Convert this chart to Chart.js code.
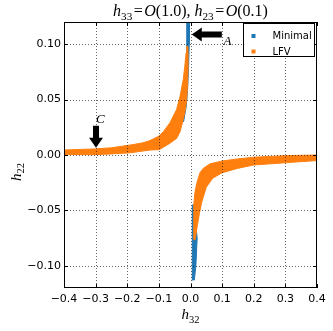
<!DOCTYPE html>
<html><head><meta charset="utf-8">
<script src="https://cdn.jsdelivr.net/npm/chart.js@4.4.1/dist/chart.umd.min.js"></script>
<style>html,body{margin:0;padding:0;background:#fff;}#wrap{width:333px;height:331px;}</style>
</head><body><div id="wrap"><canvas id="c" width="333" height="331"></canvas></div>
<script>
// ---- data ----
const xTicks = [-0.4, -0.3, -0.2, -0.1, 0.0, 0.1, 0.2, 0.3, 0.4];
const yTicks = [-0.10, -0.05, 0.00, 0.05, 0.10];
const xRange = [-0.4, 0.4];
const yRange = [-0.12, 0.12];
const seriesNames = ['Minimal', 'LFV'];

// LFV band, h32 < 0 branch (outline of the scatter cloud)
const lfvLeftX = [-0.4, -0.3, -0.25, -0.19, -0.15, -0.128, -0.1, -0.086, -0.065, -0.044, -0.033, -0.023, -0.018, -0.014, -0.012,
                  -0.008, -0.0075, -0.009, -0.012, -0.017, -0.023, -0.033, -0.044, -0.065, -0.086, -0.1, -0.128, -0.19, -0.25, -0.3, -0.4];
const lfvLeftY = [0.0045, 0.0055, 0.0065, 0.009, 0.011, 0.013, 0.017, 0.021, 0.029, 0.041, 0.053, 0.068, 0.080, 0.092, 0.098,
                  0.098, 0.080, 0.065, 0.050, 0.040, 0.032, 0.021, 0.015, 0.0106, 0.007, 0.0048, 0.0045, 0.002, 0.001, 0.0003, 0.0005];
// LFV band, h32 > 0 branch
const lfvRightX = [0.009, 0.0095, 0.011, 0.014, 0.0196, 0.03, 0.0407, 0.0617, 0.1, 0.15, 0.2, 0.3, 0.4,
                   0.4, 0.3, 0.2, 0.15, 0.1, 0.07, 0.05, 0.035, 0.028, 0.022, 0.017, 0.014];
const lfvRightY = [-0.076, -0.060, -0.045, -0.034, -0.0257, -0.016, -0.012, -0.008, -0.0054, -0.0035, -0.002, -0.0006, 0.0,
                   -0.005, -0.007, -0.009, -0.012, -0.016, -0.021, -0.029, -0.043, -0.053, -0.063, -0.072, -0.077];
// Minimal cloud, h32 < 0 part
const minLeftX = [-0.003, -0.004, -0.006, -0.009, -0.013, -0.020, -0.022, -0.024, -0.016, -0.013, -0.012, -0.012, -0.0115];
const minLeftY = [0.12, 0.10, 0.08, 0.06, 0.045, 0.033, 0.030, 0.033, 0.050, 0.065, 0.080, 0.10, 0.12];
// Minimal cloud, h32 > 0 part
const minRightX = [0.007, 0.005, 0.005, 0.006, 0.007, 0.011, 0.016, 0.021, 0.017, 0.012];
const minRightY = [-0.113, -0.10, -0.075, -0.060, -0.045, -0.045, -0.060, -0.075, -0.10, -0.113];

// annotations (data units): arrow tail, arrow tip, label anchor
const arrowA = {tail: [0.099, 0.1088], tip: [0.004, 0.1088], text: 'A', at: [0.104, 0.0993]};
const arrowC = {tail: [-0.2988, 0.0264], tip: [-0.2988, 0.0066], text: 'C', at: [-0.2990, 0.0290]};

// ---- helpers ----
const BLUE = '#1f77b4', ORANGE = '#ff7f0e';
function pts(xs, ys) { return xs.map((x, i) => ({x: x, y: ys[i]})); }
function band(label, xs, ys, color, order) {
  return {label: label, data: pts(xs, ys), showLine: true, fill: 'shape', backgroundColor: color,
          borderColor: color, borderWidth: 1, pointRadius: 0, pointHoverRadius: 0, tension: 0, order: order};
}
function fmt(v, d) { const s = (Math.abs(v) < 1e-9 ? 0 : v).toFixed(d); return s.replace('-', '\u2212'); }

const SERIF = '"Liberation Serif", "DejaVu Serif", serif';
function drawMath(ctx, parts, x, y, size, align) {
  const fonts = parts.map(p => (p.it ? 'italic ' : '') + (p.sub ? size * 0.7 : size) + 'px ' + SERIF);
  let w = 0;
  const ws = parts.map((p, i) => { ctx.font = fonts[i]; const m = ctx.measureText(p.t).width + (p.pad || 0) * 2; w += m; return m; });
  let cx = align === 'center' ? x - w / 2 : x;
  ctx.textAlign = 'left'; ctx.textBaseline = 'alphabetic';
  parts.forEach((p, i) => { ctx.font = fonts[i]; ctx.fillText(p.t, cx + (p.pad || 0), y + (p.sub ? size * 0.25 : 0)); cx += ws[i]; });
}
function drawArrow(ctx, x0, y0, x1, y1, shaft, headW, headL) {
  const dx = x1 - x0, dy = y1 - y0, L = Math.hypot(dx, dy);
  const ux = dx / L, uy = dy / L, nx = -uy, ny = ux;
  const bx = x1 - ux * headL, by = y1 - uy * headL;
  ctx.beginPath();
  ctx.moveTo(x0 + nx * shaft / 2, y0 + ny * shaft / 2);
  ctx.lineTo(bx + nx * shaft / 2, by + ny * shaft / 2);
  ctx.lineTo(bx + nx * headW / 2, by + ny * headW / 2);
  ctx.lineTo(x1, y1);
  ctx.lineTo(bx - nx * headW / 2, by - ny * headW / 2);
  ctx.lineTo(bx - nx * shaft / 2, by - ny * shaft / 2);
  ctx.lineTo(x0 - nx * shaft / 2, y0 - ny * shaft / 2);
  ctx.closePath();
  ctx.fillStyle = '#000'; ctx.fill();
}

const deco = {
  id: 'deco',
  afterDatasetsDraw(chart) {
    const ctx = chart.ctx, a = chart.chartArea, xs = chart.scales.x, ys = chart.scales.y;
    ctx.save();
    // grid (drawn above data, dotted)
    ctx.strokeStyle = 'rgba(0,0,0,0.6)'; ctx.lineWidth = 1; ctx.setLineDash([1, 2]);
    xTicks.forEach(v => { const px = Math.round(xs.getPixelForValue(v)) + 0.5; if (px <= a.left + 1 || px >= a.right - 1) return;
      ctx.beginPath(); ctx.moveTo(px, a.top); ctx.lineTo(px, a.bottom); ctx.stroke(); });
    yTicks.forEach(v => { const py = Math.round(ys.getPixelForValue(v)) + 0.5;
      ctx.beginPath(); ctx.moveTo(a.left, py); ctx.lineTo(a.right, py); ctx.stroke(); });
    ctx.setLineDash([]);
    // inward ticks
    ctx.strokeStyle = '#000'; ctx.lineWidth = 1;
    xTicks.forEach(v => { const px = Math.round(xs.getPixelForValue(v)) + 0.5;
      ctx.beginPath(); ctx.moveTo(px, a.bottom); ctx.lineTo(px, a.bottom - 4); ctx.moveTo(px, a.top); ctx.lineTo(px, a.top + 4); ctx.stroke(); });
    yTicks.forEach(v => { const py = Math.round(ys.getPixelForValue(v)) + 0.5;
      ctx.beginPath(); ctx.moveTo(a.left, py); ctx.lineTo(a.left + 4, py); ctx.moveTo(a.right, py); ctx.lineTo(a.right - 4, py); ctx.stroke(); });
    // arrows + labels
    [arrowA, arrowC].forEach(ar => {
      drawArrow(ctx, xs.getPixelForValue(ar.tail[0]), ys.getPixelForValue(ar.tail[1]),
                xs.getPixelForValue(ar.tip[0]), ys.getPixelForValue(ar.tip[1]), 6, 14, 10);
      ctx.fillStyle = '#000';
      drawMath(ctx, [{t: ar.text, it: 1}], xs.getPixelForValue(ar.at[0]), ys.getPixelForValue(ar.at[1]), 13, 'left');
    });
    // frame
    ctx.strokeStyle = '#000'; ctx.lineWidth = 1;
    ctx.strokeRect(Math.round(a.left) + 0.5, Math.round(a.top) + 0.5, Math.round(a.right - a.left) - 1, Math.round(a.bottom - a.top) - 1);
    // legend
    const lx = 243.5, ly = 23.5, lw = 71, lh = 33;
    ctx.fillStyle = '#fff'; ctx.fillRect(lx, ly, lw, lh);
    ctx.strokeStyle = '#000'; ctx.strokeRect(lx, ly, lw, lh);
    [BLUE, ORANGE].forEach((c, i) => {
      const cy = 36 + i * 15.5;
      ctx.fillStyle = c; ctx.fillRect(251.5, cy - 2, 4, 4);
      ctx.fillStyle = '#000'; ctx.font = '10px "DejaVu Sans"'; ctx.textBaseline = 'middle'; ctx.textAlign = 'left';
      ctx.fillText(seriesNames[i], 272.5, cy + 0.5);
    });
    ctx.restore();
  },
  afterDraw(chart) {
    const ctx = chart.ctx, a = chart.chartArea;
    ctx.save(); ctx.fillStyle = '#000';
    const cx = (a.left + a.right) / 2;
    drawMath(ctx, [{t: 'h', it: 1}, {t: '33', sub: 1}, {t: '=', pad: 1.5}, {t: 'O', it: 1}, {t: '(1.0), '},
                   {t: 'h', it: 1}, {t: '23', sub: 1}, {t: '=', pad: 1.5}, {t: 'O', it: 1}, {t: '(0.1)'}], cx, 16, 16, 'center');
    drawMath(ctx, [{t: 'h', it: 1}, {t: '32', sub: 1}], cx, 319, 15, 'center');
    ctx.translate(20.5, 172); ctx.rotate(-Math.PI / 2);
    drawMath(ctx, [{t: 'h', it: 1}, {t: '22', sub: 1}], 0, 0, 15, 'center');
    ctx.restore();
  }
};

new Chart(document.getElementById('c'), {
  type: 'scatter',
  data: {datasets: [
    band(seriesNames[0], minLeftX, minLeftY, BLUE, 2),
    band(seriesNames[0], minRightX, minRightY, BLUE, 2),
    band(seriesNames[1], lfvLeftX, lfvLeftY, ORANGE, 1),
    band(seriesNames[1], lfvRightX, lfvRightY, ORANGE, 1)
  ]},
  options: {
    responsive: false, animation: false, devicePixelRatio: 1,
    layout: {padding: {left: 0, right: 16, top: 22, bottom: 0}},
    plugins: {legend: {display: false}, tooltip: {enabled: false}, title: {display: false}},
    scales: {
      x: {type: 'linear', min: xRange[0], max: xRange[1],
          grid: {display: false, drawTicks: false}, border: {display: false},
          afterBuildTicks: s => { s.ticks = xTicks.map(v => ({value: v})); },
          afterFit: s => { s.height = 43; },
          ticks: {padding: 5, autoSkip: false, maxRotation: 0, color: '#000', font: {family: 'DejaVu Sans', size: 11},
                  callback: v => fmt(v, 1)}},
      y: {type: 'linear', min: yRange[0], max: yRange[1],
          grid: {display: false, drawTicks: false}, border: {display: false},
          afterBuildTicks: s => { s.ticks = yTicks.map(v => ({value: v})); },
          afterFit: s => { s.width = 64; },
          ticks: {padding: 3, color: '#000', font: {family: 'DejaVu Sans', size: 11},
                  callback: v => fmt(v, 2)}}
    }
  },
  plugins: [deco]
});
</script></body></html>
